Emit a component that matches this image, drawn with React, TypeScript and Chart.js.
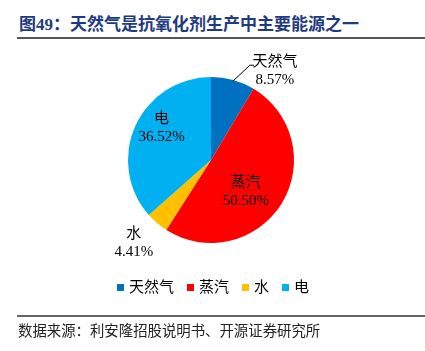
import React, { useEffect, useRef } from "react";
import { Chart, registerables } from "chart.js";

Chart.register(...registerables);

const categories = ["天然气", "蒸汽", "水", "电"];
const values = [8.57, 50.5, 4.41, 36.52];
const colors = ["#0070C0", "#FF0000", "#FFC000", "#00B0F0"];
const valueLabels = ["8.57%", "50.50%", "4.41%", "36.52%"];

const TITLE = "图49：天然气是抗氧化剂生产中主要能源之一";
const SOURCE = "数据来源：利安隆招股说明书、开源证券研究所";

const FONT = '"Liberation Serif", "Noto Sans CJK SC", serif';

// label block centres, in units of the pie radius, relative to the pie centre
const labelOffsets = [
  [0.77, -1.07],
  [0.42, 0.39],
  [-0.93, 1.0],
  [-0.595, -0.39],
];

const labelPlugin = {
  id: "sliceLabels",
  afterDatasetsDraw(chart: any) {
    const ctx = chart.ctx;
    const meta = chart.getDatasetMeta(0);
    ctx.save();
    ctx.font = "15px " + FONT;
    ctx.fillStyle = "#000";
    ctx.textAlign = "center";
    ctx.textBaseline = "middle";
    meta.data.forEach((arc: any, i: number) => {
      const { x, y, outerRadius, startAngle, endAngle } = arc.getProps(
        ["x", "y", "outerRadius", "startAngle", "endAngle"],
        true
      );
      const mid = (startAngle + endAngle) / 2;
      const lx = x + labelOffsets[i][0] * outerRadius;
      const ly = y + labelOffsets[i][1] * outerRadius;
      if (i === 0) {
        // leader line from the slice edge to the outside label
        const sx = x + Math.cos(mid) * outerRadius;
        const sy = y + Math.sin(mid) * outerRadius;
        ctx.beginPath();
        ctx.strokeStyle = "#000";
        ctx.lineWidth = 1;
        ctx.moveTo(sx, sy + 1);
        ctx.lineTo(lx - 25, ly - 6);
        ctx.lineTo(lx - 21, ly - 6);
        ctx.stroke();
      }
      ctx.fillText(categories[i], lx, ly - 9);
      ctx.fillText(valueLabels[i], lx, ly + 9);
    });
    ctx.restore();
  },
};

export default function App() {
  const ref = useRef<HTMLCanvasElement | null>(null);

  useEffect(() => {
    if (!ref.current) return;
    const chart = new Chart(ref.current, {
      type: "pie",
      data: {
        labels: categories,
        datasets: [
          {
            data: values,
            backgroundColor: colors,
            borderWidth: 0,
          },
        ],
      },
      options: {
        responsive: false,
        animation: false,
        devicePixelRatio: 1,
        layout: { padding: { left: 128, right: 131, top: 77, bottom: 108 } },
        plugins: {
          legend: { display: false },
          tooltip: { enabled: false },
        },
      },
      plugins: [labelPlugin],
    });
    return () => chart.destroy();
  }, []);

  return (
    <div
      style={{
        position: "fixed",
        left: 0,
        top: 0,
        width: 425,
        height: 351,
        background: "#fff",
        overflow: "hidden",
        fontFamily: FONT,
      }}
    >
      <div
        style={{
          position: "absolute",
          left: 19,
          top: 16,
          fontSize: 17,
          lineHeight: "18px",
          fontWeight: "bold",
          color: "#1F3B80",
          whiteSpace: "nowrap",
        }}
      >
        {TITLE}
      </div>
      <div
        style={{
          position: "absolute",
          left: 17,
          top: 37,
          width: 408,
          height: 2,
          background: "#555",
        }}
      />
      <canvas
        ref={ref}
        width={425}
        height={351}
        style={{ position: "absolute", left: 0, top: 0, width: 425, height: 351 }}
      />
      <div
        style={{
          position: "absolute",
          left: 0,
          top: 278,
          width: 425,
          height: 18,
          display: "flex",
          justifyContent: "center",
          alignItems: "center",
          paddingLeft: 1,
          boxSizing: "border-box",
        }}
      >
        {categories.map((c, i) => (
          <div
            key={c}
            style={{
              display: "flex",
              alignItems: "center",
              marginRight: i < categories.length - 1 ? 13 : 0,
            }}
          >
            <span
              style={{
                display: "inline-block",
                width: 7,
                height: 7,
                background: colors[i],
                marginRight: 5,
              }}
            />
            <span style={{ fontSize: 15, lineHeight: "18px", color: "#000" }}>
              {c}
            </span>
          </div>
        ))}
      </div>
      <div
        style={{
          position: "absolute",
          left: 17,
          top: 315,
          width: 408,
          height: 1.5,
          background: "#666",
        }}
      />
      <div
        style={{
          position: "absolute",
          left: 18,
          top: 322,
          fontSize: 14.4,
          lineHeight: "18px",
          color: "#222",
          whiteSpace: "nowrap",
        }}
      >
        {SOURCE}
      </div>
    </div>
  );
}
